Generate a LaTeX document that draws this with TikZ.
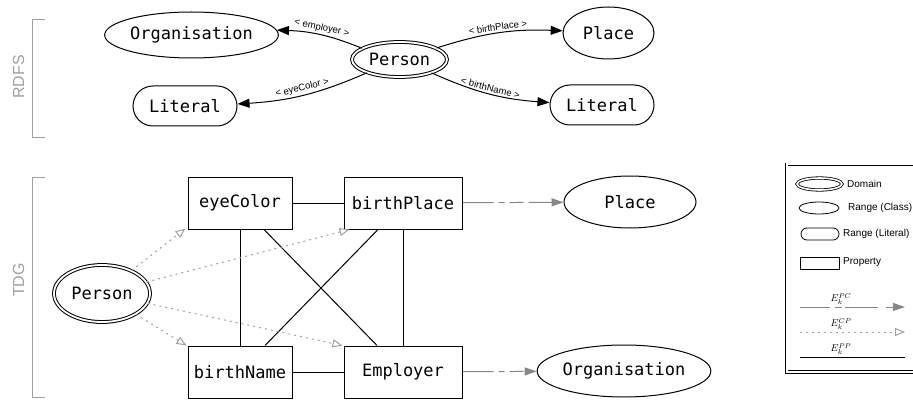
\documentclass[tikz,border=0pt]{standalone}
\usepackage{amsmath}
\usepackage{fontspec}
\setsansfont{Liberation Sans}
\setmonofont{DejaVu Sans Mono}
\usetikzlibrary{arrows.meta,shapes.geometric}
\definecolor{bracketgray}{RGB}{160,160,160}
\definecolor{edgegray}{RGB}{135,135,135}
\definecolor{dotgray}{RGB}{160,160,160}

\begin{document}
\begin{tikzpicture}[x = 1pt, y = 1pt,
        mono/.style = {font = {\fontsize{17}{20}\selectfont\ttfamily}, inner sep = 0pt, line width = 1pt, draw},
        domainnode/.style = {mono, ellipse, double, double distance = 1.8pt},
        classnode/.style = {mono, ellipse},
        literal/.style = {mono, rectangle, rounded corners = 20pt, minimum width = 104pt, minimum height = 40pt},
        property/.style = {mono, rectangle, minimum height = 52pt},
        rdflabel/.style = {font = {\fontsize{9.5}{11}\selectfont\sffamily}, sloped, above, inner sep = 2pt},
        rdfedge/.style = {-{Triangle[length = 12pt, width = 9pt]}, line width = 1pt},
        ppedge/.style = {line width = 1pt},
        pcedge/.style = {-{Triangle[length = 12pt, width = 8pt]}, edgegray, line width = 1pt,
                dash pattern = {on 31pt off 5pt on 6pt off 5pt on 14pt off 5pt}},
        cpedge/.style = {-{Triangle[open, length = 10pt, width = 8pt]}, dotgray, line width = 1pt,
                dash pattern = {on 2pt off 4pt}},
        sidelabel/.style = {font = {\fontsize{16}{18}\selectfont\sffamily}, bracketgray, rotate = 90},
        legtext/.style = {font = {\fontsize{10}{12}\selectfont\sffamily}, anchor = west, inner sep = 0pt},
        legnode/.style = {draw, line width = 0.8pt, inner sep = 0pt},
        legmath/.style = {font = {\fontsize{10}{12}\selectfont}, anchor = south, inner sep = 0pt}
    ]
        \useasboundingbox (0,0) rectangle (913,-401);

        \draw[bracketgray, line width = 1pt] (45,-20) -- (32,-20) -- (32,-138) -- (45,-138);
        \draw[bracketgray, line width = 1pt] (45,-177) -- (32,-177) -- (32,-397) -- (45,-397);
        \node[sidelabel] (rdfsLabel) at (18.5,-77) {RDFS};
        \node[sidelabel] (tdgLabel) at (18.5,-280) {TDG};

        \node[domainnode, minimum width = 95pt, minimum height = 35pt] (personR) at (399.5,-59.5) {Person};
        \node[classnode, minimum width = 171pt, minimum height = 46pt] (orgR) at (191.5,-35) {Organisation};
        \node[classnode, minimum width = 91pt, minimum height = 52pt] (placeR) at (608.5,-33) {Place};
        \node[literal] (litL) at (185,-106) {Literal};
        \node[literal] (litR) at (602,-105) {Literal};

        \draw[rdfedge] (personR) to[bend right = 10] node[rdflabel] (lblEmployer) {< employer >} (orgR);
        \draw[rdfedge] (personR) to[bend left = 10] node[rdflabel] (lblBirthPlace) {< birthPlace >} (placeR);
        \draw[rdfedge] (personR) to[bend left = 10] node[rdflabel] (lblEyeColor) {< eyeColor >} (litL);
        \draw[rdfedge] (personR) to[bend right = 10] node[rdflabel] (lblBirthName) {< birthName >} (litR);

        \node[domainnode, minimum width = 96pt, minimum height = 57pt] (personT) at (102,-293.5) {Person};
        \node[property, minimum width = 104pt] (eyeColor) at (240,-203) {eyeColor};
        \node[property, minimum width = 118pt] (birthPlace) at (403,-203) {birthPlace};
        \node[property, minimum width = 104pt] (birthName) at (240,-372) {birthName};
        \node[property, minimum width = 118pt] (employer) at (403,-372) {Employer};
        \node[classnode, minimum width = 132pt, minimum height = 52pt] (placeT) at (630,-202) {Place};
        \node[classnode, minimum width = 170pt, minimum height = 52pt] (orgT) at (624,-371) {Organisation};

        \draw[ppedge] (eyeColor) -- (birthPlace);
        \draw[ppedge] (birthName) -- (employer);
        \draw[ppedge] (eyeColor) -- (birthName);
        \draw[ppedge] (birthPlace.south) -- (employer.north);
        \draw[ppedge] ([xshift = 24pt]eyeColor.south) -- ([xshift = -26pt]employer.north);
        \draw[ppedge] ([xshift = -25pt]birthPlace.south) -- ([xshift = 25pt]birthName.north);

        \draw[cpedge] (personT) -- ([shift = {(-2pt,1pt)}]eyeColor.south west);
        \draw[cpedge] (personT) -- ([xshift = 6pt]birthPlace.south west);
        \draw[cpedge] (personT) -- ([xshift = -1pt]employer.north west);
        \draw[cpedge] (personT) -- ([xshift = -1pt]birthName.north west);

        \draw[pcedge] (birthPlace) -- (placeT);
        \draw[pcedge] (employer) -- (orgT);

        \draw[line width = 0.8pt, double, double distance = 2pt] (786.5,-164.5) rectangle (940,-372);
        \node[legnode, ellipse, double, double distance = 1.6pt, minimum width = 45pt, minimum height = 12pt] (legDomain) at (819.5,-184) {};
        \node[legnode, ellipse, minimum width = 40pt, minimum height = 12pt] (legClass) at (819,-208) {};
        \node[legnode, rectangle, rounded corners = 6pt, minimum width = 38pt, minimum height = 12pt] (legLiteral) at (820,-234) {};
        \node[legnode, rectangle, minimum width = 39pt, minimum height = 12pt] (legProperty) at (820,-263) {};
        \node[legtext] (txtDomain) at (847,-184) {Domain};
        \node[legtext] (txtClass) at (848,-208) {Range (Class)};
        \node[legtext] (txtLiteral) at (843,-234) {Range (Literal)};
        \node[legtext] (txtProperty) at (843,-262) {Property};

        \coordinate (pcStart) at (800,-307);
        \coordinate (pcEnd) at (905,-307);
        \coordinate (cpStart) at (800,-332);
        \coordinate (cpEnd) at (905,-332);
        \coordinate (ppStart) at (800,-357);
        \coordinate (ppEnd) at (905,-357);
        \draw[pcedge, dash pattern = {on 30pt off 5pt on 7pt off 3pt on 33pt off 8pt}] (pcStart) -- (pcEnd);
        \draw[cpedge] (cpStart) -- (cpEnd);
        \draw[ppedge] (ppStart) -- (ppEnd);
        \node[legmath] (lblPC) at (841,-305) {$E_k^{PC}$};
        \node[legmath] (lblCP) at (841,-330) {$E_k^{CP}$};
        \node[legmath] (lblPP) at (841,-355) {$E_k^{PP}$};
    \end{tikzpicture}
\end{document}
